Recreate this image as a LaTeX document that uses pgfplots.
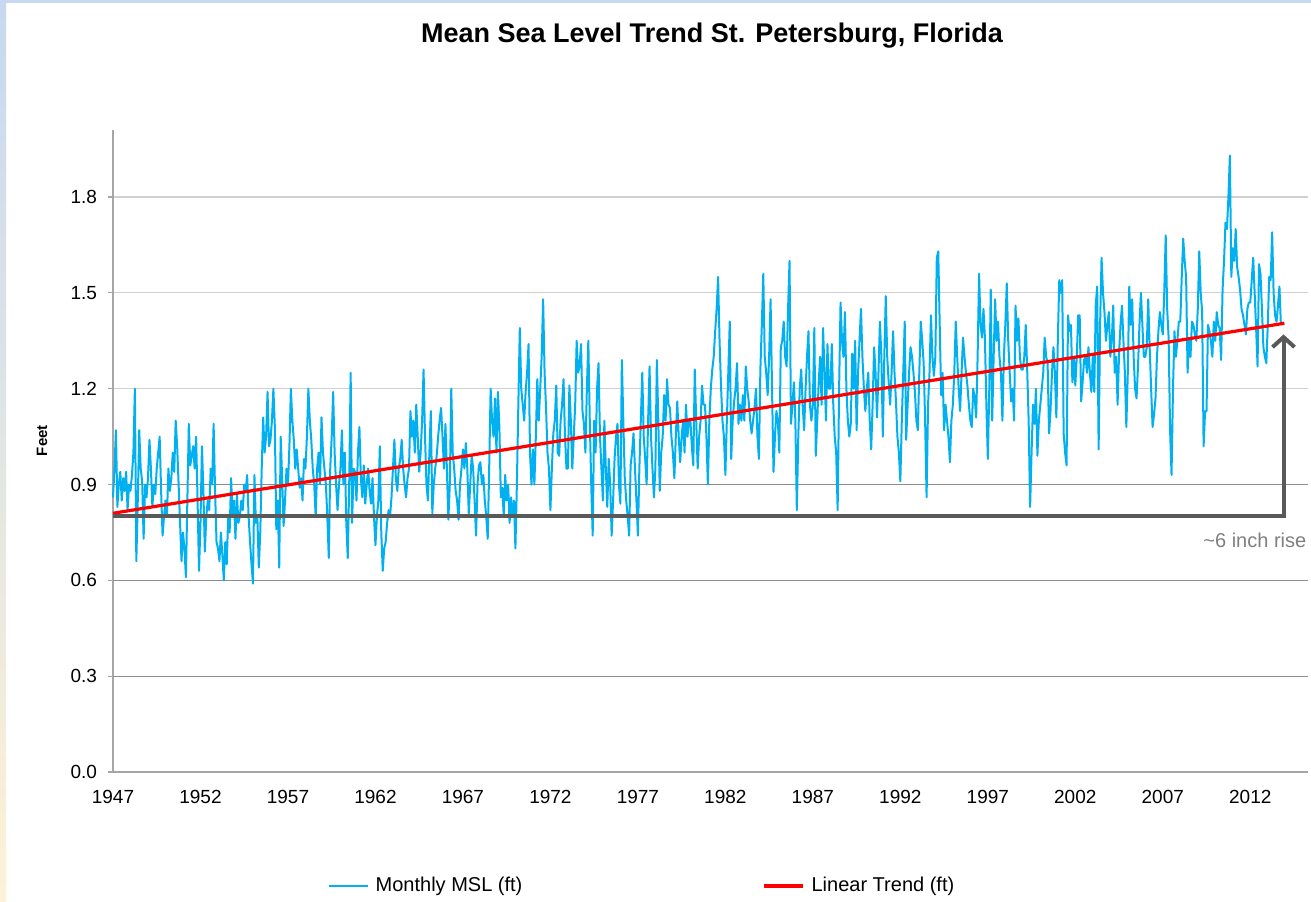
\documentclass[border=0pt]{standalone}
\usepackage{pgfplots}
\pgfplotsset{compat=1.18}
\usepackage{pgfplotstable}
\usepackage{fontspec}
\setmainfont{Liberation Sans}
\usetikzlibrary{arrows.meta}
\definecolor{mslblue}{HTML}{00B0F0}
\definecolor{axgray}{HTML}{A6A6A6}
\definecolor{gridlight}{HTML}{D0D0D0}
\definecolor{griddark}{HTML}{8C8C8C}
\definecolor{arrowgray}{HTML}{595959}
\definecolor{notegray}{HTML}{808080}
\definecolor{frameblue}{HTML}{C6D9F1}
\definecolor{frameyellow}{HTML}{FDF2D5}

\pgfplotstableread[row sep=\\]{
msl\\
0.86\\0.95\\1.07\\0.83\\0.90\\0.94\\0.85\\0.92\\0.88\\0.94\\0.82\\0.90\\
0.88\\0.93\\1.00\\1.20\\0.66\\0.85\\1.07\\0.95\\0.91\\0.73\\0.90\\0.86\\
0.92\\1.04\\0.95\\0.83\\0.90\\0.87\\0.95\\1.00\\1.05\\0.88\\0.74\\0.80\\
0.85\\0.80\\0.95\\0.88\\0.92\\1.00\\0.94\\1.10\\1.02\\0.90\\0.78\\0.66\\
0.75\\0.70\\0.61\\0.85\\1.09\\0.96\\0.99\\1.02\\0.95\\1.05\\0.85\\0.63\\
0.78\\1.02\\0.88\\0.69\\0.80\\0.85\\0.82\\0.95\\0.90\\1.09\\0.88\\0.72\\
0.70\\0.66\\0.75\\0.68\\0.60\\0.72\\0.65\\0.80\\0.75\\0.92\\0.80\\0.85\\
0.73\\0.87\\0.78\\0.80\\0.85\\0.82\\0.90\\0.88\\0.93\\0.80\\0.72\\0.65\\
0.59\\0.93\\0.78\\0.80\\0.64\\0.75\\0.95\\1.11\\1.00\\1.05\\1.19\\1.02\\
1.04\\1.10\\1.20\\1.08\\0.76\\0.85\\0.64\\1.05\\0.92\\0.77\\0.85\\0.95\\
0.90\\1.02\\1.20\\1.10\\1.04\\0.95\\1.01\\0.95\\0.89\\0.92\\0.85\\0.98\\
0.95\\1.05\\1.20\\1.10\\1.04\\0.95\\0.90\\0.80\\0.95\\1.00\\0.90\\1.11\\
1.00\\0.95\\0.90\\0.80\\0.67\\0.95\\1.05\\1.19\\1.00\\0.90\\0.82\\0.90\\
0.95\\1.07\\0.90\\1.00\\0.78\\0.67\\0.90\\1.25\\0.78\\0.95\\0.94\\0.85\\
1.00\\1.08\\0.92\\0.86\\0.96\\0.84\\0.90\\0.95\\0.88\\0.84\\0.92\\0.80\\
0.71\\0.80\\0.85\\1.02\\0.75\\0.63\\0.70\\0.72\\0.78\\0.82\\0.80\\0.86\\
0.95\\1.04\\0.92\\0.88\\0.95\\0.98\\1.04\\0.95\\0.90\\0.86\\0.92\\0.95\\
1.13\\1.05\\1.10\\1.00\\1.15\\1.05\\0.94\\1.00\\1.10\\1.26\\1.05\\0.90\\
0.85\\1.00\\1.13\\0.81\\0.90\\0.95\\0.99\\1.05\\1.10\\1.14\\1.05\\0.95\\
1.09\\0.95\\0.79\\0.90\\1.20\\1.00\\0.95\\0.88\\0.85\\0.79\\0.90\\0.95\\
1.01\\0.95\\1.03\\0.95\\0.81\\0.90\\0.99\\0.95\\0.85\\0.74\\0.90\\0.96\\
0.97\\0.90\\0.93\\0.85\\0.80\\0.73\\0.95\\1.20\\1.10\\1.05\\1.17\\1.00\\
1.19\\1.08\\0.86\\0.89\\0.80\\0.93\\0.85\\0.90\\0.78\\0.86\\0.80\\0.85\\
0.70\\0.90\\1.15\\1.39\\1.20\\1.15\\1.10\\1.19\\1.25\\1.34\\1.00\\0.90\\
1.01\\0.90\\1.05\\1.23\\1.10\\1.20\\1.30\\1.48\\1.25\\1.14\\1.00\\0.95\\
0.82\\0.95\\1.06\\1.10\\1.21\\1.00\\0.99\\1.10\\1.15\\1.23\\1.05\\0.95\\
0.95\\1.21\\1.10\\0.95\\1.05\\1.15\\1.35\\1.25\\1.27\\1.34\\1.13\\1.09\\
1.00\\1.20\\1.35\\1.10\\0.90\\0.74\\1.10\\1.00\\1.20\\1.28\\1.05\\0.95\\
0.85\\1.10\\0.95\\0.83\\0.98\\0.90\\0.74\\0.85\\0.98\\1.05\\1.09\\0.90\\
0.84\\1.29\\1.10\\0.92\\0.85\\0.80\\0.74\\0.96\\1.00\\1.06\\0.95\\0.85\\
0.74\\0.95\\1.10\\1.25\\1.05\\0.98\\0.90\\1.10\\1.27\\1.05\\0.95\\0.86\\
0.95\\1.29\\1.10\\0.88\\1.00\\1.05\\1.18\\1.10\\1.23\\1.15\\1.14\\1.05\\
1.00\\0.92\\1.05\\1.16\\1.05\\0.97\\1.05\\1.10\\1.00\\1.15\\1.05\\1.10\\
1.10\\1.02\\0.96\\1.26\\1.10\\0.95\\1.05\\1.10\\1.21\\1.15\\1.15\\1.05\\
0.90\\1.10\\1.20\\1.26\\1.30\\1.38\\1.45\\1.55\\1.35\\1.21\\1.10\\1.05\\
0.93\\1.10\\1.25\\1.41\\0.98\\1.10\\1.16\\1.20\\1.28\\1.09\\1.15\\1.10\\
1.18\\1.10\\1.27\\1.20\\1.16\\1.10\\1.06\\1.10\\1.14\\1.20\\1.05\\0.98\\
1.26\\1.40\\1.56\\1.30\\1.25\\1.18\\1.30\\1.48\\1.20\\0.94\\1.05\\1.13\\
1.10\\1.00\\1.33\\1.35\\1.41\\1.30\\1.27\\1.45\\1.60\\1.09\\1.15\\1.22\\
1.10\\0.82\\1.05\\1.20\\1.26\\1.15\\1.07\\1.20\\1.30\\1.38\\1.15\\1.10\\
1.15\\1.39\\0.99\\1.10\\1.22\\1.30\\1.15\\1.39\\1.25\\1.10\\1.34\\1.20\\
1.20\\1.34\\1.15\\1.05\\1.00\\0.82\\1.20\\1.47\\1.35\\1.30\\1.44\\1.20\\
1.10\\1.05\\1.09\\1.31\\1.20\\1.35\\1.07\\1.25\\1.35\\1.45\\1.30\\1.20\\
1.13\\1.20\\1.25\\1.10\\1.01\\1.15\\1.33\\1.25\\1.11\\1.25\\1.41\\1.30\\
1.05\\1.30\\1.49\\1.30\\1.22\\1.15\\1.25\\1.38\\1.25\\1.16\\1.05\\1.00\\
0.91\\1.10\\1.25\\1.41\\1.04\\1.15\\1.25\\1.33\\1.30\\1.25\\1.19\\1.10\\
1.07\\1.25\\1.41\\1.35\\1.28\\1.10\\0.86\\1.15\\1.25\\1.43\\1.30\\1.24\\
1.30\\1.61\\1.63\\1.40\\1.18\\1.25\\1.07\\1.15\\1.10\\1.05\\0.97\\1.10\\
1.15\\1.25\\1.41\\1.30\\1.20\\1.13\\1.25\\1.36\\1.30\\1.25\\1.21\\1.15\\
1.10\\1.08\\1.20\\1.17\\1.11\\1.30\\1.56\\1.40\\1.36\\1.45\\1.36\\1.15\\
0.98\\1.20\\1.51\\1.10\\1.30\\1.48\\1.35\\1.41\\1.30\\1.25\\1.10\\1.30\\
1.40\\1.53\\1.35\\1.25\\1.16\\1.20\\1.10\\1.46\\1.35\\1.42\\1.30\\1.26\\
1.26\\1.30\\1.40\\1.26\\1.10\\0.83\\1.00\\1.15\\1.09\\1.20\\0.99\\1.10\\
1.15\\1.20\\1.25\\1.36\\1.30\\1.28\\1.06\\1.13\\1.25\\1.33\\1.25\\1.11\\
1.35\\1.54\\1.50\\1.54\\1.06\\1.00\\0.96\\1.43\\1.38\\1.40\\1.22\\1.30\\
1.21\\1.30\\1.43\\1.43\\1.16\\1.22\\1.29\\1.30\\1.25\\1.33\\1.25\\1.19\\
1.30\\1.19\\1.46\\1.52\\1.01\\1.40\\1.61\\1.50\\1.44\\1.35\\1.40\\1.44\\
1.30\\1.35\\1.46\\1.25\\1.30\\1.15\\1.31\\1.40\\1.46\\1.35\\1.25\\1.08\\
1.25\\1.52\\1.40\\1.48\\1.30\\1.20\\1.17\\1.27\\1.40\\1.50\\1.40\\1.30\\
1.30\\1.33\\1.48\\1.33\\1.20\\1.08\\1.12\\1.17\\1.30\\1.38\\1.44\\1.40\\
1.37\\1.50\\1.68\\1.45\\1.36\\1.07\\0.93\\1.20\\1.38\\1.30\\1.35\\1.41\\
1.41\\1.55\\1.67\\1.60\\1.55\\1.25\\1.35\\1.30\\1.41\\1.40\\1.37\\1.35\\
1.45\\1.63\\1.50\\1.44\\1.02\\1.13\\1.13\\1.40\\1.38\\1.35\\1.30\\1.41\\
1.35\\1.44\\1.40\\1.39\\1.29\\1.51\\1.60\\1.72\\1.70\\1.80\\1.93\\1.55\\
1.64\\1.60\\1.70\\1.58\\1.55\\1.51\\1.45\\1.43\\1.40\\1.37\\1.45\\1.47\\
1.47\\1.54\\1.61\\1.50\\1.39\\1.27\\1.59\\1.56\\1.45\\1.33\\1.30\\1.28\\
1.40\\1.55\\1.54\\1.69\\1.50\\1.43\\1.41\\1.46\\1.52\\1.40\\
}\msldata

\begin{document}
\begin{tikzpicture}
\useasboundingbox (0pt,0pt) rectangle (655.5pt,450.5pt);
\fill[white] (0pt,0pt) rectangle (655.5pt,450.5pt);
\fill[frameblue] (0pt,449pt) rectangle (655.5pt,450.5pt);
\shade[top color=frameblue, bottom color=frameyellow] (0pt,0pt) rectangle (3pt,450.5pt);
\node[font=\fontsize{13.5}{15}\selectfont\bfseries] at (356pt,432.5pt) {Mean Sea Level Trend St. Petersburg, Florida};
\begin{axis}[
  at={(56.5pt,64.5pt)}, anchor=south west,
  scale only axis, width=597.5pt, height=321pt,
  xmin=1947, xmax=2015.3, ymin=0, ymax=2.01,
  clip=false,
  axis x line=bottom, axis y line=left,
  axis line style={-, draw=axgray, line width=0.7pt},
  xtick={1947,1952,...,2012},
  xtick style={draw=none},
  ytick={0,0.3,0.6,0.9,1.2,1.5,1.8},
  yticklabels={0.0,0.3,0.6,0.9,1.2,1.5,1.8},
  extra y ticks={0.3,0.6,0.9},
  extra y tick labels={},
  extra y tick style={grid style={draw=griddark, line width=0.6pt}},
  tick align=outside, major tick length=2.5pt,
  ytick style={draw=axgray, line width=0.6pt},
  ymajorgrids, grid style={draw=gridlight, line width=0.6pt},
  /pgf/number format/1000 sep={},
  /pgf/number format/assume math mode=true,
  ticklabel style={font=\fontsize{9.5}{11}\selectfont, text=black},
  yticklabel style={xshift=-2pt},
  xticklabel style={yshift=-3pt},
  ylabel={Feet},
  every axis y label/.style={at={(rel axis cs:0,0.516)}, xshift=-35.5pt, rotate=90, anchor=center,
     font=\fontsize{7.5}{9}\selectfont\bfseries},
  legend style={at={(0.4435,-0.1776)}, anchor=center, draw=none, fill=none,
    font=\fontsize{10}{12}\selectfont, legend columns=2,
    /tikz/every even column/.append style={column sep=118pt},
    /tikz/every odd column/.append style={column sep=1.5pt}},
  legend image code/.code={\draw[#1] (0pt,0pt) -- (19.5pt,0pt);},
]
\addplot[mslblue, line width=1pt, line join=round, no marks]
  table[x expr={1947+\coordindex/12}, y=msl] {\msldata};
\addlegendentry{Monthly MSL (ft)}
\addplot[red, line width=1.6pt, no marks] coordinates {(1947,0.81) (2013.95,1.405)};
\addlegendentry{Linear Trend (ft)}
\draw[arrowgray, line width=2pt, line join=miter, -{Straight Barb[length=5pt, width=11pt, line width=2pt]}]
  (axis cs:1947,0.80) -- (axis cs:2013.9,0.80) -- (axis cs:2013.9,1.37);
\node[anchor=west, text=notegray, font=\fontsize{10}{12}\selectfont, inner sep=0pt]
  at (axis cs:2009.3,0.726) {\textasciitilde 6 inch rise};
\end{axis}
\end{tikzpicture}
\end{document}
